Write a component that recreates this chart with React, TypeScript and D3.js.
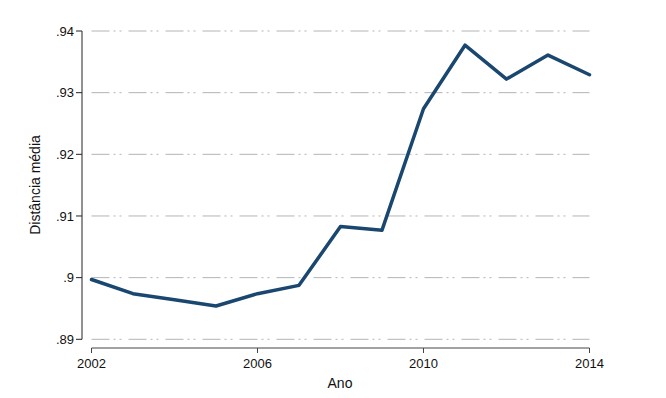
import React from 'react'
import * as d3 from 'd3'

// anos e distância média
const years = [2002, 2003, 2004, 2005, 2006, 2007, 2008, 2009, 2010, 2011, 2012, 2013, 2014]
const values = [0.8997, 0.8974, 0.8964, 0.8954, 0.8974, 0.89875, 0.9083, 0.9077, 0.9274, 0.9377, 0.9322, 0.9361, 0.9329]
const yTicks = [0.89, 0.9, 0.91, 0.92, 0.93, 0.94]
const yTickLabels = ['.89', '.9', '.91', '.92', '.93', '.94']
const xTicks = [2002, 2006, 2010, 2014]

const W = 666
const H = 398
const font = 'Arial, "Liberation Sans", sans-serif'

export default function App() {
  const x = d3.scaleLinear().domain([2002, 2014]).range([91.5, 589.5])
  const y = d3.scaleLinear().domain([0.89, 0.94]).range([339.3, 31])
  const axisX = 82
  const axisY = 348

  const line = d3.line<number>()
    .x((d, i) => x(years[i]))
    .y(d => y(d))

  return (
    <div style={{ position: 'absolute', left: 0, top: 0 }}>
      <svg width={W} height={H} style={{ display: 'block', background: '#fff' }}>
        {/* grade */}
        {yTicks.map(t => (
          <line key={'g' + t} x1={x(2002)} x2={x(2014)} y1={y(t)} y2={y(t)}
            stroke="#b4b4b4" strokeWidth={1} strokeDasharray="18,4,2,4,2,7" />
        ))}

        {/* eixo y */}
        <line x1={axisX} x2={axisX} y1={y(0.94)} y2={y(0.89)} stroke="#222" strokeWidth={1} />
        {yTicks.map((t, i) => (
          <g key={'y' + t}>
            <line x1={axisX - 6} x2={axisX} y1={y(t)} y2={y(t)} stroke="#222" strokeWidth={1} />
            <text x={axisX - 8} y={y(t)} dy="0.35em" textAnchor="end"
              fontFamily={font} fontSize={13} fill="#111">{yTickLabels[i]}</text>
          </g>
        ))}

        {/* eixo x */}
        <line x1={x(2002)} x2={x(2014)} y1={axisY} y2={axisY} stroke="#444" strokeWidth={1} />
        {xTicks.map(t => (
          <g key={'x' + t}>
            <line x1={x(t)} x2={x(t)} y1={axisY} y2={axisY + 5} stroke="#444" strokeWidth={1} />
            <text x={x(t)} y={axisY + 20} textAnchor="middle"
              fontFamily={font} fontSize={13} fill="#111">{t}</text>
          </g>
        ))}

        {/* série */}
        <path d={line(values) || ''} fill="none" stroke="#1a476f" strokeWidth={3.5}
          strokeLinejoin="round" strokeLinecap="round" />

        {/* títulos */}
        <text x={340} y={388} textAnchor="middle" fontFamily={font} fontSize={14} fill="#111">Ano</text>
        <text transform={`translate(40,185) rotate(-90)`} textAnchor="middle"
          fontFamily={font} fontSize={14} fill="#111">Distância média</text>
      </svg>
    </div>
  )
}
